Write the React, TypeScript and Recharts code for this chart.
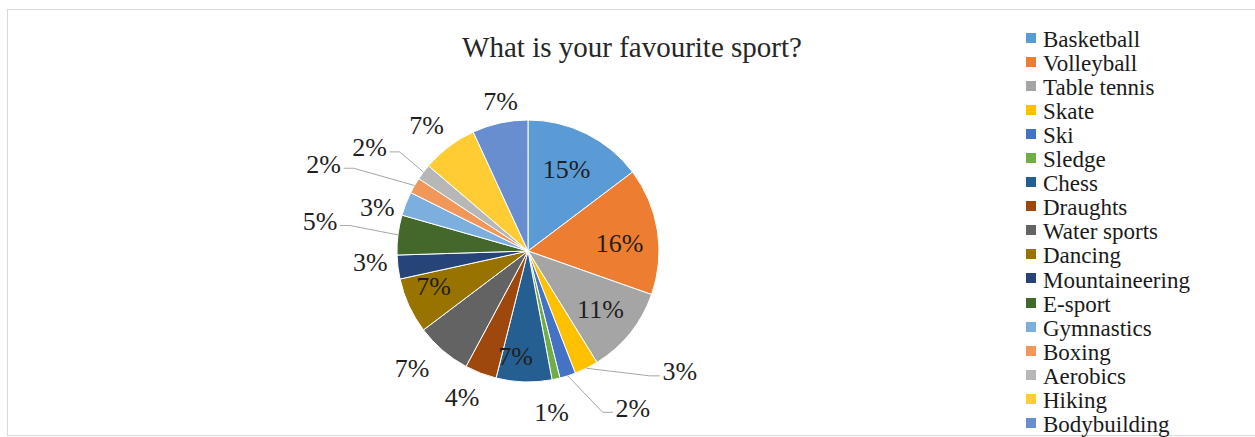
import { PieChart, Pie, Cell, Legend } from 'recharts'

const SPORTS = [
  'Basketball',
  'Volleyball',
  'Table tennis',
  'Skate',
  'Ski',
  'Sledge',
  'Chess',
  'Draughts',
  'Water sports',
  'Dancing',
  'Mountaineering',
  'E-sport',
  'Gymnastics',
  'Boxing',
  'Aerobics',
  'Hiking',
  'Bodybuilding',
]
const SHARES = [15, 16, 11, 3, 2, 1, 7, 4, 7, 7, 3, 5, 3, 2, 2, 7, 7]

const COLORS = [
  '#5B9BD5', '#ED7D31', '#A5A5A5', '#FFC000', '#4472C4', '#70AD47',
  '#255E91', '#9E480E', '#636363', '#997300', '#264478', '#43682B',
  '#7CAFDD', '#F1975A', '#B7B7B7', '#FFCD33', '#698ED0',
]

// where each percentage sits: distance from centre (px), nudge (deg, clockwise)
const LABEL_R = [90, 92, 93, 194, 189, 163, 106, 161, 165, 101, 158, 210, 157, 222, 189, 161, 152]
const LABEL_NUDGE = [-1, 4, 0, -25, -16, 4, 5, 3, 4, 4, 3, 1, -5, -7, -4, -2, 2]
const LEADER = [false, false, false, true, true, false, false, false, false, false, false, true, false, true, true, false, false]

const SERIF = '"Liberation Serif", "Times New Roman", serif'
const RAD = Math.PI / 180

const data = SPORTS.map((name, i) => ({ name, value: SHARES[i] }))

function renderLabel(props: any) {
  const { cx, cy, midAngle, outerRadius, index, value } = props
  const theta = 90 - midAngle
  const t = (theta + LABEL_NUDGE[index]) * RAD
  const x = cx + LABEL_R[index] * Math.sin(t)
  const y = cy - LABEL_R[index] * Math.cos(t)
  let line = null
  if (LEADER[index]) {
    const ex = cx + outerRadius * Math.sin(theta * RAD)
    const ey = cy - outerRadius * Math.cos(theta * RAD)
    const left = x < cx
    const endX = left ? x + 20 : x - 20
    const elbowX = left ? endX + 10 : endX - 10
    const ly = y + 4
    line = (
      <polyline
        points={`${ex},${ey} ${elbowX},${ly} ${endX},${ly}`}
        fill="none"
        stroke="#a6a6a6"
        strokeWidth={1}
      />
    )
  }
  return (
    <g key={`lbl-${index}`}>
      {line}
      <text
        x={x}
        y={y}
        textAnchor="middle"
        dominantBaseline="central"
        fill="#1f1f1f"
        style={{ fontFamily: SERIF, fontSize: 26 }}
      >
        {`${value}%`}
      </text>
    </g>
  )
}

function renderLegend(props: any) {
  const colorOf: Record<string, string> = {}
  ;(props.payload || []).forEach((p: any) => {
    colorOf[p.value] = p.color
  })
  // keep the slice order, not the alphabetical one
  const items = SPORTS.map((name, i) => ({ name, color: colorOf[name] || COLORS[i] }))
  return (
    <div style={{ fontFamily: SERIF, fontSize: 23, color: '#1a1a1a' }}>
      {items.map((it) => (
        <div
          key={it.name}
          style={{ display: 'flex', alignItems: 'center', height: 24.06, whiteSpace: 'nowrap' }}
        >
          <span
            style={{
              display: 'inline-block',
              width: 10,
              height: 10,
              background: it.color,
              marginRight: 7,
              position: 'relative',
              top: -2,
            }}
          />
          {it.name}
        </div>
      ))}
    </div>
  )
}

export default function App() {
  return (
    <div
      style={{
        position: 'absolute',
        left: 0,
        top: 0,
        width: 1255,
        height: 437,
        overflow: 'hidden',
        background: '#fff',
      }}
    >
      <div
        style={{
          position: 'absolute',
          left: 7,
          top: 9,
          width: 1260,
          height: 425,
          border: '1px solid #d9d9d9',
        }}
      />
      <div
        style={{
          position: 'absolute',
          left: 382,
          top: 33,
          width: 500,
          textAlign: 'center',
          fontFamily: SERIF,
          fontSize: 29,
          lineHeight: '29px',
          color: '#262626',
          zIndex: 2,
        }}
      >
        What is your favourite sport?
      </div>
      <div style={{ position: 'absolute', left: 0, top: 0 }}>
        <PieChart width={1255} height={437} margin={{ top: 0, right: 0, bottom: 0, left: 0 }}>
          <Pie
            data={data}
            dataKey="value"
            nameKey="name"
            cx={528}
            cy={251}
            outerRadius={131}
            startAngle={90}
            endAngle={-270}
            stroke="#ffffff"
            strokeWidth={1}
            label={renderLabel}
            labelLine={false}
            isAnimationActive={false}
          >
            {data.map((d, i) => (
              <Cell key={d.name} fill={COLORS[i]} />
            ))}
          </Pie>
          <Legend
            layout="vertical"
            align="right"
            verticalAlign="top"
            content={renderLegend}
            wrapperStyle={{ left: 1026, top: 28, width: 229 }}
          />
        </PieChart>
      </div>
    </div>
  )
}
